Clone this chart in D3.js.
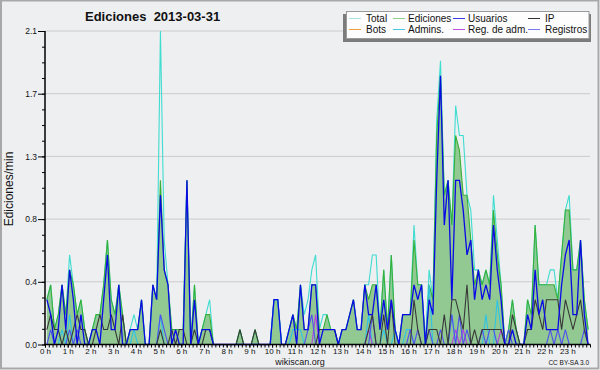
<!DOCTYPE html>
<html><head><meta charset="utf-8">
<script src="https://cdn.jsdelivr.net/npm/d3@7"></script>
<style>
body{margin:0;background:#fff}
svg{display:block}
text{font-family:"Liberation Sans",Arial,sans-serif;fill:#111}
</style>
</head><body>
<svg id="c" width="600" height="370"></svg>
<script>
// ---- DATA (10-minute bins, 144 per day, edits per minute) ----
const title = "Ediciones  2013-03-31";
const hourLabels = d3.range(24).map(h => h + " h");
const yTickLabelsEvery = 0.42;

const total = [
 .3,.4,.1,.2,.4,.2,  .6,.4,.2,.3,.1,0,  .1,.2,.2,.4,.7,.3,  .2,.4,.2,0,.1,.2,
 .1,.3,0,0,.4,.3,  2.1,.7,.4,.1,.1,.1,  .1,1.1,0,.4,0,.1,  .2,.3,0,0,0,0,
 0,0,0,.1,0,0,  0,.1,0,0,0,0,  .3,.3,0,0,.1,.2,  .1,.4,.2,.3,.5,.6,
 .1,.2,.2,.1,.1,0,  .1,.1,.2,.3,.1,.1,  .4,.4,.6,.6,.1,.5,  .1,.6,.1,0,.2,.2,
 .2,.8,.4,.4,0,.5,  .3,1.5,1.9,1.0,1.1,.8,  1.6,1.4,1.4,1.0,.9,.5,  .5,.4,.5,.4,1.0,.7,
 .4,0,.1,.3,.1,0,  0,.3,.2,.8,.4,.4,  .4,.5,.5,.3,.6,.9,  1.0,.5,.5,.7,.3,.1
];
const ediciones = [
 .3,.4,.1,.2,.4,.2,  .5,.4,.2,.3,.1,0,  .1,.2,.2,.4,.7,.3,  .2,.4,.2,0,.1,.1,
 .1,.3,0,0,.4,.3,  1.1,.5,.4,.1,.1,.1,  .1,1.1,0,.4,0,.1,  .2,.2,0,0,0,0,
 0,0,0,.1,0,0,  0,.1,0,0,0,0,  .3,.3,0,0,.1,.2,  .1,.4,.1,.1,.4,.4,
 .1,.1,.2,.1,.1,0,  .1,.1,.2,.3,.1,.1,  .4,.3,.4,.4,.1,.5,  .1,.6,.1,0,.2,.2,
 .2,.7,.4,.4,0,.4,  .3,1.4,1.8,1.0,1.1,.8,  1.4,1.3,1.0,1.0,.7,.4,  .5,.4,.5,.4,.9,.6,
 .4,0,.1,.3,.1,0,  0,.3,.2,.8,.4,.4,  .4,.4,.4,.3,.6,.9,  .9,.5,.5,.7,.3,.1
];
const usuarios = [
 .3,.2,0,.1,.4,.1,  .5,.3,0,.2,0,0,  .1,.1,0,.3,.6,.1,  .1,.4,0,0,.1,.1,
 .1,.3,0,0,.4,.3,  1.0,.5,.4,0,.1,0,  0,1.1,0,.3,0,.1,  .1,.1,0,0,0,0,
 0,0,0,0,0,0,  0,0,0,0,0,0,  .3,.3,0,0,.1,.2,  0,.4,.1,.1,.4,.4,
 0,.1,.1,.1,.1,0,  .1,.1,.2,.3,.1,.1,  .4,.2,.2,.4,.1,.3,  .1,.3,.1,0,.2,.2,
 .2,.4,.3,.4,0,.3,  .2,1.1,1.8,.8,1.1,.3,  1.1,1.1,.9,.6,.7,.3,  .5,.3,.4,.3,.8,.5,
 .3,0,0,.1,0,0,  0,.2,.1,.5,.2,.3,  .1,.1,.1,.1,.4,.6,  .7,.2,.2,.7,.2,0
];
const ip = [
 .1,.2,.1,.1,0,.1,  0,.1,.2,.1,.1,0,  0,.1,.2,.1,.1,.2,  .1,0,.2,0,0,0,
 0,0,0,0,0,0,  .1,0,0,.1,0,.1,  .1,0,0,.1,0,0,  .1,.1,0,0,0,0,
 0,0,0,.1,0,0,  0,.1,0,0,0,0,  0,0,0,0,0,0,  0,0,0,0,0,0,
 .1,.1,.1,.1,.1,0,  0,0,0,0,0,0,  0,.1,.2,0,0,.2,  0,.3,0,0,0,0,
 0,.3,.1,0,0,.1,  .1,.1,0,.2,0,.3,  .3,.2,.1,.4,0,.1,  0,.1,.1,.1,.1,.1,
 .1,0,0,.2,.1,0,  0,.1,.1,.3,.2,.1,  .3,.3,.3,.3,.1,.3,  .2,.1,.2,.3,.1,0
];
const bots = new Array(144).fill(0);
const admins = [
 0,0,0,0,.1,0,  .2,0,0,0,0,0,  0,0,0,0,0,0,  0,0,0,0,0,.1,
 0,0,0,0,0,0,  .2,0,0,0,0,0,  0,0,0,0,0,0,  0,0,0,0,0,0,
 0,0,0,0,0,0,  0,0,0,0,0,0,  .3,.3,0,0,0,.1,  .1,.1,0,0,0,0,
 0,0,0,0,0,0,  0,0,0,0,0,0,  0,.2,0,0,0,.1,  0,0,.1,0,0,.1,
 .1,0,0,0,0,.4,  0,0,0,0,0,.2,  0,0,0,0,0,0,  0,0,.2,0,0,.3,
 .1,0,0,0,0,0,  0,0,0,0,0,0,  0,0,0,0,0,0,  0,0,0,0,0,0
];
const regAdm = [
 0,0,0,0,0,0,  0,0,0,0,0,0,  0,0,0,0,0,0,  0,0,0,0,0,0,
 0,0,0,0,0,0,  0,0,0,0,0,0,  0,0,0,0,0,0,  0,0,0,0,0,0,
 0,0,0,0,0,0,  0,0,0,0,0,0,  0,0,0,0,0,0,  0,0,0,0,0,.2,
 0,0,0,0,0,0,  0,0,0,0,0,0,  0,.1,0,0,0,0,  0,0,0,0,0,0,
 0,0,0,0,0,0,  0,0,0,0,0,0,  .1,0,.1,0,0,0,  0,0,0,0,0,0,
 .1,0,0,0,0,0,  0,0,0,0,0,0,  0,0,0,0,0,0,  0,0,0,0,0,0
];
const registros = [
 0,.1,0,0,0,0,  .1,0,.1,0,0,0,  0,0,0,0,0,0,  0,0,0,0,0,0,
 0,0,0,0,0,0,  .2,.1,0,0,0,0,  0,0,0,0,0,0,  0,0,0,0,0,0,
 0,0,0,0,0,0,  0,0,0,0,0,0,  0,0,0,0,0,0,  0,0,0,.1,.2,0,
 0,0,0,0,0,0,  0,0,0,0,0,0,  0,0,.2,0,0,0,  0,0,0,0,0,0,
 .1,0,.1,0,0,.1,  0,0,.1,0,0,.2,  0,.2,0,.1,0,0,  0,.1,0,.1,.1,0,
 0,0,.1,0,0,0,  0,0,0,0,0,0,  0,.1,0,.1,0,.1,  0,0,0,0,.1,0
];

const series = [
  {name:"Total", data: total, color:"#3fdcd0", legend:"#a6e6e2"},
  {name:"Ediciones", data: ediciones, color:"#38b038", legend:"#8ed08e", area:true},
  {name:"Usuarios", data: usuarios, color:"#0a0ae6", legend:"#3a3ae0"},
  {name:"IP", data: ip, color:"#383838", legend:"#333333"},
  {name:"Bots", data: bots, color:"#f0a040", legend:"#f0a040"},
  {name:"Admins.", data: admins, color:"#2ec4e6", legend:"#44c8e4"},
  {name:"Reg. de adm.", data: regAdm, color:"#b440e0", legend:"#c050e0"},
  {name:"Registros", data: registros, color:"#5050f0", legend:"#7a7af0"}
];

// ---- DRAW ----
const svg = d3.select("#c");
svg.append("rect").attr("x",1).attr("y",0.5).attr("width",597.5).attr("height",368)
  .attr("fill","#eeeff1").attr("stroke","#a8a8a8").attr("stroke-width",2);

const x = d3.scaleLinear().domain([0,144]).range([45,590]);
const y = d3.scaleLinear().domain([0,2.1]).range([344.5,31]);

const majors = d3.range(0,6).map(k => +(k*yTickLabelsEvery).toFixed(3));
const minors = d3.range(0,21).map(k => +(k*0.105).toFixed(4));

// grid
svg.append("g").selectAll("line").data(majors.filter(v=>v>0)).join("line")
  .attr("x1",45).attr("x2",590).attr("y1",d=>y(d)).attr("y2",d=>y(d))
  .attr("stroke","#cbcbcb").attr("stroke-width",1);

const px = (d,i) => x(i+0.5);
const area = d3.area().x(px).y0(y(0)).y1(d=>y(d));
const line = d3.line().x(px).y(d=>y(d));

svg.append("path").datum(ediciones).attr("d",area).attr("fill","#92c992");

const order = ["Total","Ediciones","Bots","Admins.","Reg. de adm.","Registros","IP","Usuarios"];
order.forEach(n => {
  const s = series.find(q=>q.name===n);
  svg.append("path").datum(s.data).attr("d",line).attr("fill","none")
    .attr("stroke",s.color).attr("stroke-width", n==="Usuarios"?1.3:1.1)
    .attr("stroke-linejoin","miter");
});

// y axis
const yMinor = svg.append("g").attr("transform","translate(45,0)")
  .call(d3.axisLeft(y).tickValues(minors).tickSize(3).tickFormat(""));
yMinor.select(".domain").remove();
const yMajor = svg.append("g").attr("transform","translate(45,0)")
  .call(d3.axisLeft(y).tickValues(majors).tickSize(7).tickPadding(1).tickFormat(d3.format(".1f")));
yMajor.select(".domain").attr("stroke-width",1.5).attr("d","M0,31V344.5");
yMajor.selectAll("text").attr("font-size","8.5px").attr("fill","#222");
svg.selectAll(".tick line").attr("stroke","#000");

// x axis
const xMinor = svg.append("g").attr("transform","translate(0,344.5)")
  .call(d3.axisBottom(x).tickValues(d3.range(0,145)).tickSize(3).tickFormat(""));
xMinor.select(".domain").attr("stroke-width",1.6).attr("d","M44,0H590.5");
const xLab = svg.append("g").attr("transform","translate(0,344.5)")
  .call(d3.axisBottom(x).tickValues(d3.range(0,144,6)).tickSize(3).tickPadding(1)
    .tickFormat(d => hourLabels[d/6]));
xLab.select(".domain").remove();
xLab.selectAll("text").attr("font-size","8px").attr("fill","#222");
xLab.selectAll("line").attr("stroke","#000");
xMinor.selectAll("line").attr("stroke","#000");

// title & labels
svg.append("text").attr("x",85).attr("y",21).attr("font-size","13px").attr("font-weight","bold")
  .style("white-space","pre").attr("fill","#111").text(title);
svg.append("text").attr("transform","translate(13,189) rotate(-90)").attr("text-anchor","middle")
  .attr("font-size","12px").attr("fill","#111").text("Ediciones/min");
svg.append("text").attr("x",300).attr("y",365).attr("text-anchor","middle")
  .attr("font-size","9px").attr("fill","#333").text("wikiscan.org");
svg.append("text").attr("x",589).attr("y",365).attr("text-anchor","end")
  .attr("font-size","6.5px").attr("fill","#333").text("CC BY-SA 3.0");

// legend
const lg = svg.append("g");
lg.append("rect").attr("x",343).attr("y",14).attr("width",248).attr("height",28).attr("fill","#7c7c7c");
lg.append("rect").attr("x",346.5).attr("y",11.5).attr("width",242.5).attr("height",27)
  .attr("fill","#fdfdfd").attr("stroke","#9a9a9a");
const colX = [349, 393, 453, 528];
const txtX = [366, 408, 468, 545];
const legendOrder = ["Total","Ediciones","Usuarios","IP","Bots","Admins.","Reg. de adm.","Registros"];
legendOrder.forEach((n,k) => {
  const s = series.find(q=>q.name===n);
  const c = k%4, r = Math.floor(k/4);
  const yy = 18.5 + r*11;
  lg.append("line").attr("x1",colX[c]).attr("x2",colX[c]+12).attr("y1",yy).attr("y2",yy)
    .attr("stroke",s.legend).attr("stroke-width",1);
  lg.append("text").attr("x",txtX[c]).attr("y",yy+3.5).attr("font-size","10px").attr("fill","#222").text(n);
});
</script>
</body></html>
